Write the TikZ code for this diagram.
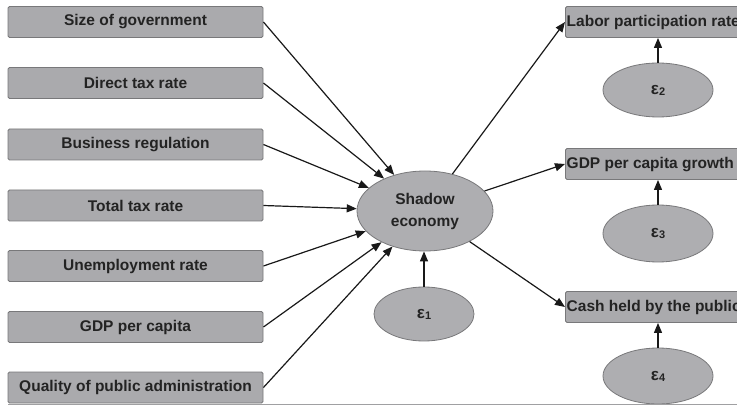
\documentclass[tikz,border=0pt]{standalone}
\usepackage{fontspec}
\setmainfont{Liberation Sans}
\usetikzlibrary{arrows.meta,shapes.geometric}
\definecolor{boxfill}{RGB}{170,170,173}
\definecolor{boxline}{RGB}{120,120,122}
\definecolor{ellfill}{RGB}{174,174,177}
\definecolor{txt}{RGB}{35,35,35}
\newcommand{\eps}[1]{{\fontsize{17}{17}\selectfont\bfseries ε}\kern0.2pt{\fontsize{11}{11}\selectfont\bfseries\raisebox{-1pt}{#1}}}
\begin{document}
\begin{tikzpicture}[x=1pt,y=-1pt,
  lbox/.style={draw=boxline, fill=boxfill, line width=0.9pt, rounded corners=1.5pt,
    minimum width=255pt, minimum height=31pt, inner sep=0pt, text=txt,
    font=\fontsize{15.5}{18}\selectfont\bfseries},
  rbox/.style={draw=boxline, fill=boxfill, line width=0.9pt, rounded corners=1.5pt,
    minimum width=200pt, minimum height=31pt, inner sep=0pt, anchor=west},
  rtext/.style={anchor=west, inner sep=0pt, text=txt, font=\fontsize{15.5}{18}\selectfont\bfseries},
  ell/.style={ellipse, draw=boxline, fill=ellfill, line width=0.8pt, inner sep=0pt, text=txt},
  arr/.style={line width=1.2pt, -{Triangle[length=10pt,width=8pt]}, draw=black!90}
]
\useasboundingbox (0,0) rectangle (737,406);
\fill[white] (0,0) rectangle (737,406);
\clip (0,0) rectangle (737,406);

% left boxes
\node[lbox] (b1) at (135.5,22) {Size of government};
\node[lbox] (b2) at (135.5,83) {Direct tax rate};
\node[lbox] (b3) at (135.5,144.5) {Business regulation};
\node[lbox] (b4) at (135.5,205.5) {Total tax rate};
\node[lbox] (b5) at (135.5,266) {Unemployment rate};
\node[lbox] (b6) at (135.5,327) {GDP per capita};
\node[lbox] (b7) at (135.5,387.5) {Quality of public administration};

% centre
\node[ell, minimum width=136pt, minimum height=80pt, align=center,
  font=\fontsize{15.5}{22}\selectfont\bfseries] (se) at (425,211) {Shadow\\economy};
\node[ell, minimum width=100pt, minimum height=54pt] (e1) at (424,314) {\eps{1}};

% right boxes
\node[rbox] (r1) at (565,22) {};
\node[rtext] (t1) at (566.5,22.5) {Labor participation rate};
\node[rbox] (r2) at (565,164) {};
\node[rtext] (t2) at (566.5,164.5) {GDP per capita growth};
\node[rbox] (r3) at (565,307) {};
\node[rtext] (t3) at (566.5,307.5) {Cash held by the public};

\node[ell, minimum width=110pt, minimum height=54pt] (e2) at (658,90) {\eps{2}};
\node[ell, minimum width=110pt, minimum height=57pt] (e3) at (658,233.5) {\eps{3}};
\node[ell, minimum width=110pt, minimum height=56pt] (e4) at (658,376) {\eps{4}};

% bottom rule
\draw[boxline!70, line width=1pt] (8,404.5) -- (737,404.5);

% arrows in
\foreach \b in {b1,b2,b3,b4,b5,b6,b7}
  \draw[arr] (\b.east) -- (se);
\draw[arr] (e1.north) -- (e1.north |- se.south);
% arrows out
\draw[arr] (se) -- (r1.west);
\draw[arr] (se) -- (r2.west);
\draw[arr] (se) -- (r3.west);
\draw[arr] (e2.north) -- (e2.north |- r1.south);
\draw[arr] (e3.north) -- (e3.north |- r2.south);
\draw[arr] (e4.north) -- (e4.north |- r3.south);
\end{tikzpicture}
\end{document}
